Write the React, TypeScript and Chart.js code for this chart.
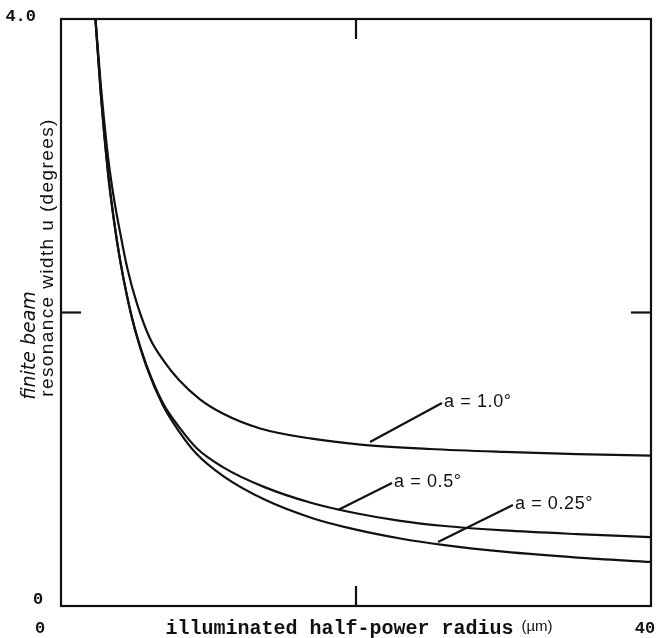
import { useEffect, useRef } from 'react';
import { Chart, registerables } from 'chart.js';

Chart.register(...registerables);

// Axis ranges and tick labels
const xMin = 0;
const xMax = 40;
const yMin = 0;
const yMax = 4.0;
const xTickValues = [0, 20, 40];
const xTickLabels = ['0', '', '40'];
const yTickValues = [0, 2, 4];
const yTickLabels = ['0', '', '4.0'];

// Series: resonance width vs illuminated half-power radius
const xA10 = [2.3, 2.7, 3.2, 3.6, 4.0, 4.5, 5.15, 6.0, 7.0, 8.0, 9.4, 11, 13.5, 17, 20.3, 25, 30, 35, 40];
const yA10 = [4.05, 3.55, 3.05, 2.77, 2.55, 2.3, 2.06, 1.83, 1.665, 1.54, 1.41, 1.31, 1.21, 1.14, 1.1, 1.07, 1.05, 1.035, 1.025];

const xA05 = [2.3, 2.7, 3.2, 3.6, 4.0, 4.5, 5.0, 5.8, 6.9, 8.0, 9.2, 11, 13.8, 17, 20, 23, 26, 30, 35, 40];
const yA05 = [4.05, 3.49, 2.94, 2.62, 2.36, 2.1, 1.89, 1.64, 1.385, 1.22, 1.075, 0.945, 0.81, 0.702, 0.632, 0.58, 0.545, 0.515, 0.49, 0.47];

const xA025 = [2.3, 2.7, 3.2, 3.6, 4.0, 4.5, 5.0, 5.8, 6.9, 8.0, 9.2, 11, 13.8, 17, 20, 23, 26, 30, 35, 40];
const yA025 = [4.05, 3.49, 2.94, 2.62, 2.36, 2.1, 1.89, 1.63, 1.37, 1.19, 1.035, 0.885, 0.725, 0.6, 0.52, 0.46, 0.415, 0.37, 0.33, 0.3];

// Leader lines for the curve labels (data coordinates)
const leaderLabels = ['a = 1.0°', 'a = 0.5°', 'a = 0.25°'];
const leaderX0 = [20.95, 18.78, 25.56];
const leaderY0 = [1.118, 0.654, 0.436];
const leaderX1 = [25.83, 22.44, 30.64];
const leaderY1 = [1.383, 0.838, 0.688];

const xTitle = 'illuminated half-power radius';
const xTitleUnit = '(µm)';
const yTitle = 'resonance width u (degrees)';
const yTitleHand = 'finite beam';

const INK = '#111';

const toPoints = (xs: number[], ys: number[]) => xs.map((x, i) => ({ x, y: ys[i] }));

const framePlugin = {
  id: 'framePlugin',
  afterDatasetsDraw(chart: any) {
    const { ctx, chartArea: a, scales } = chart;
    const xs = scales.x;
    const ys = scales.y;
    ctx.save();
    ctx.strokeStyle = INK;
    ctx.fillStyle = INK;
    ctx.lineWidth = 2.2;
    ctx.strokeRect(a.left, a.top, a.right - a.left, a.bottom - a.top);

    const seg = (x0: number, y0: number, x1: number, y1: number) => {
      ctx.beginPath();
      ctx.moveTo(x0, y0);
      ctx.lineTo(x1, y1);
      ctx.stroke();
    };
    const tickLen = 20;
    xTickValues.forEach((v) => {
      if (v === xMin || v === xMax) return;
      const px = xs.getPixelForValue(v);
      seg(px, a.bottom, px, a.bottom - tickLen);
      seg(px, a.top, px, a.top + tickLen);
    });
    yTickValues.forEach((v) => {
      if (v === yMin || v === yMax) return;
      const py = ys.getPixelForValue(v);
      seg(a.left, py, a.left + tickLen, py);
      seg(a.right, py, a.right - tickLen, py);
    });

    // tick labels
    ctx.font = 'bold 17px "Liberation Mono"';
    ctx.textBaseline = 'middle';
    ctx.textAlign = 'center';
    yTickValues.forEach((v, i) => {
      const lab = yTickLabels[i];
      if (!lab) return;
      const py = ys.getPixelForValue(v);
      if (v === yMax) {
        ctx.textAlign = 'right';
        ctx.fillText(lab, a.left - 25, py - 2);
      } else {
        ctx.textAlign = 'center';
        ctx.fillText(lab, a.left - 23, py - 6);
      }
    });
    xTickValues.forEach((v, i) => {
      const lab = xTickLabels[i];
      if (!lab) return;
      const px = xs.getPixelForValue(v);
      ctx.textAlign = 'center';
      ctx.fillText(lab, v === xMin ? px - 21 : px - 6, a.bottom + 23);
    });

    // x title
    const tFont = 'bold 20px "Liberation Mono"';
    const uFont = '15px "Liberation Sans"';
    ctx.font = tFont;
    const w1 = ctx.measureText(xTitle).width;
    ctx.font = uFont;
    const w2 = ctx.measureText(xTitleUnit).width;
    const gap = 8;
    const total = w1 + gap + w2;
    const cx = (a.left + a.right) / 2 + 3;
    const sx = cx - total / 2;
    ctx.textAlign = 'left';
    ctx.font = tFont;
    ctx.fillText(xTitle, sx, a.bottom + 23);
    ctx.font = uFont;
    ctx.fillText(xTitleUnit, sx + w1 + gap, a.bottom + 21);

    // y titles
    ctx.save();
    ctx.translate(a.left - 13, (a.top + a.bottom) / 2 - 55);
    ctx.rotate(-Math.PI / 2);
    ctx.textAlign = 'center';
    ctx.font = '19px "Liberation Sans"';
    (ctx as any).letterSpacing = '1.4px';
    ctx.fillText(yTitle, 0, 0);
    ctx.restore();

    ctx.save();
    ctx.translate(a.left - 31, (a.top + a.bottom) / 2 + 33);
    ctx.rotate(-Math.PI / 2);
    ctx.textAlign = 'center';
    ctx.font = 'italic 19px "DejaVu Sans"';
    ctx.fillText(yTitleHand, 0, 0);
    ctx.restore();

    // curve labels
    ctx.font = '18px "Liberation Sans"';
    (ctx as any).letterSpacing = '0.6px';
    ctx.textAlign = 'left';
    ctx.textBaseline = 'middle';
    leaderLabels.forEach((lab, i) => {
      const px = xs.getPixelForValue(leaderX1[i]);
      const py = ys.getPixelForValue(leaderY1[i]);
      ctx.fillText(lab, px + 2, py - 1);
    });
    (ctx as any).letterSpacing = '0px';
    ctx.restore();
  },
};

export default function App() {
  const ref = useRef<HTMLCanvasElement | null>(null);

  useEffect(() => {
    if (!ref.current) return;
    const curve = (xs: number[], ys: number[]) => ({
      data: toPoints(xs, ys),
      borderColor: INK,
      borderWidth: 2.2,
      pointRadius: 0,
      fill: false,
      cubicInterpolationMode: 'monotone' as const,
    });
    const leaders = leaderLabels.map((_, i) => ({
      data: [
        { x: leaderX0[i], y: leaderY0[i] },
        { x: leaderX1[i], y: leaderY1[i] },
      ],
      borderColor: INK,
      borderWidth: 2.2,
      pointRadius: 0,
      fill: false,
    }));
    const chart = new Chart(ref.current, {
      type: 'line',
      data: {
        datasets: [curve(xA10, yA10), curve(xA05, yA05), curve(xA025, yA025), ...leaders],
      },
      options: {
        animation: false,
        responsive: false,
        maintainAspectRatio: false,
        layout: { padding: { left: 61, top: 19, right: 12, bottom: 32 } },
        plugins: { legend: { display: false }, tooltip: { enabled: false } },
        scales: {
          x: { type: 'linear', min: xMin, max: xMax, display: false },
          y: { type: 'linear', min: yMin, max: yMax, display: false },
        },
      },
      plugins: [framePlugin],
    });
    return () => chart.destroy();
  }, []);

  return (
    <div style={{ position: 'fixed', left: 0, top: 0, width: 663, height: 638, background: '#fff' }}>
      <canvas ref={ref} width={663} height={638} style={{ display: 'block' }} />
    </div>
  );
}
